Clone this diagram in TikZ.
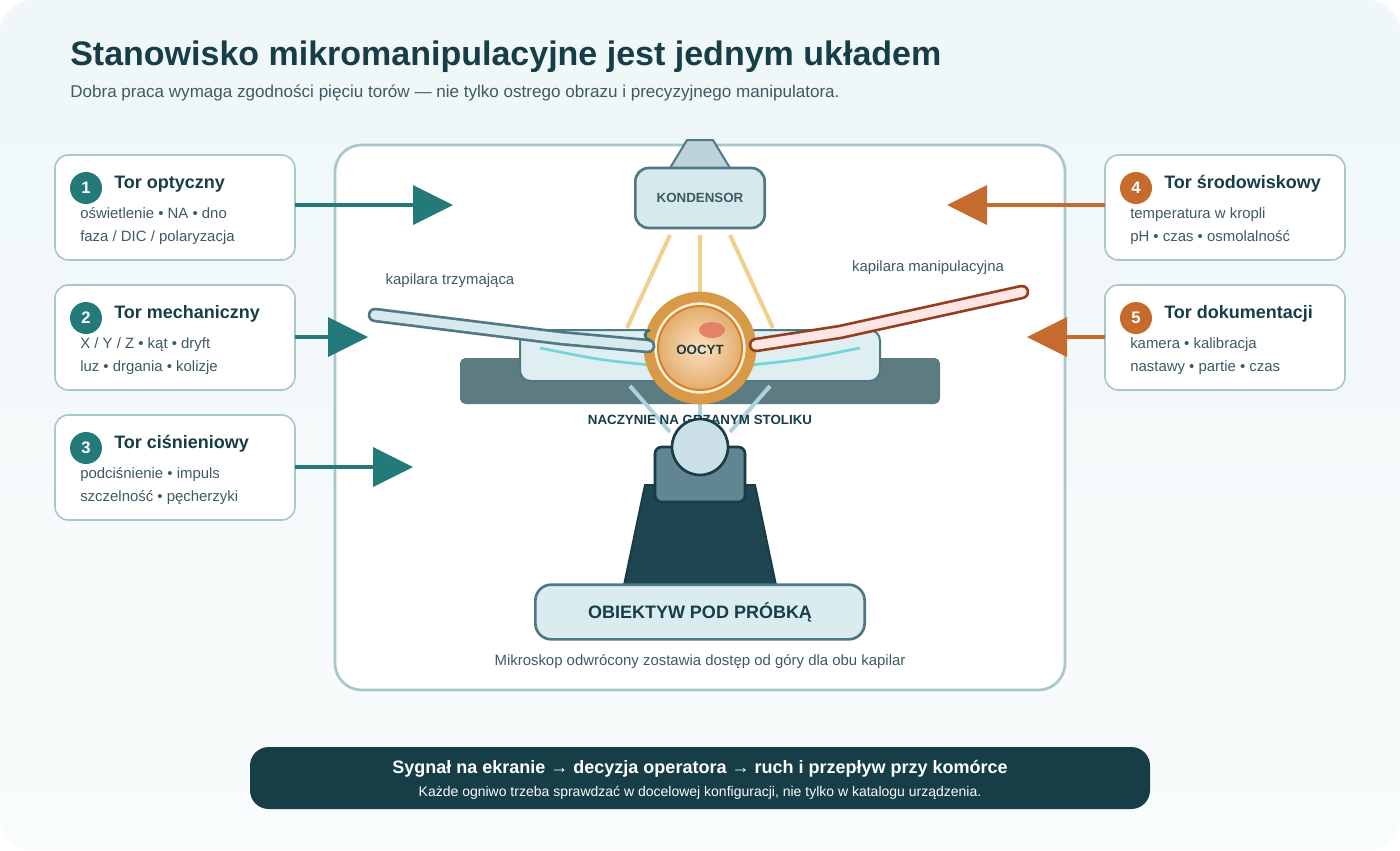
\documentclass[tikz,border=0pt]{standalone}
\usepackage{fontspec}
\setmainfont{Liberation Sans}
\usetikzlibrary{calc}
\begin{document}
\definecolor{teal}{HTML}{237A78}
\definecolor{orng}{HTML}{C56B2E}
\definecolor{dark}{HTML}{173D47}
\definecolor{txt}{HTML}{3E5A63}
\definecolor{bord}{HTML}{A9C6CA}
\definecolor{pale}{HTML}{D6EAEE}
\definecolor{stage}{HTML}{5C7C82}
\definecolor{steel}{HTML}{4F7885}
\definecolor{ring}{HTML}{D99A48}
\definecolor{ray}{HTML}{F0D08C}
\begin{tikzpicture}[x=0.75pt,y=-0.75pt,
 card/.style={draw=bord,line width=1.2pt,fill=white,rounded corners=10pt},
 num/.style={circle,minimum size=24pt,inner sep=0pt,text=white,font=\bfseries\fontsize{12.5}{14}\selectfont},
 ctitle/.style={anchor=west,text=dark,font=\bfseries\fontsize{13.5}{16}\selectfont},
 cbody/.style={anchor=north west,text=txt,align=left,font=\fontsize{11.2}{17.2}\selectfont,inner sep=0pt},
 arr/.style={line width=3pt}]
\shade[top color=white!60!pale,bottom color=white!85!pale,rounded corners=25pt] (0,0) rectangle (1400,850);
\useasboundingbox (0,0) rectangle (1400,850);
\node[anchor=west,text=dark,font=\bfseries\fontsize{25.5}{30}\selectfont,inner sep=0pt] at (70,57) {Stanowisko mikromanipulacyjne jest jednym układem};
\node[anchor=west,text=txt,font=\fontsize{12.8}{16}\selectfont,inner sep=0pt] at (70,93) {Dobra praca wymaga zgodności pięciu torów — nie tylko ostrego obrazu i precyzyjnego manipulatora.};
% main frame
\draw[card,rounded corners=20pt,line width=2pt] (335,145) rectangle (1065,690);
% condenser
\draw[fill=pale!80!steel,draw=steel,line width=1.5pt] (670,168) -- (687,140) -- (713,140) -- (730,168) -- cycle;
\node[draw=steel,line width=2pt,fill=pale,rounded corners=10pt,minimum width=97pt,minimum height=45pt,text=txt,font=\bfseries\fontsize{10}{12}\selectfont] (kond) at (700,198) {KONDENSOR};
% rays
\draw[ray,line width=3pt] (670,235) -- (627,328) (700,235) -- (700,295) (730,235) -- (773,328);
% stage
\fill[stage,rounded corners=4pt] (460,358) rectangle (940,404);
\draw[steel,fill=pale!80!white,line width=1.5pt,rounded corners=8pt] (520,330) rectangle (880,381);
\draw[teal!50!cyan!60!white,line width=2pt] (540,348) .. controls (600,360) .. (650,365) (750,365) .. controls (800,360) .. (860,348);
% lower rays
\draw[cyan!40!teal!40,line width=3pt] (630,386) -- (670,432) (700,385) -- (700,420) (770,386) -- (730,432);
\node[text=dark,font=\bfseries\fontsize{10}{12}\selectfont] (stol) at (700,420) {NACZYNIE NA GRZANYM STOLIKU};
% objective
\fill[dark!85!steel] (645,485) -- (755,485) -- (777,590) -- (623,590) -- cycle;
\draw[dark,line width=1.5pt] (645,485) -- (755,485) -- (777,590) -- (623,590) -- cycle;
\draw[dark,fill=steel!90!white,line width=2pt,rounded corners=5pt] (655,447) rectangle (745,502);
\draw[dark,fill=cyan!30!teal!25!white,line width=2pt] (700,447) circle (28);
\node[draw=steel,line width=2pt,fill=pale!90!white,rounded corners=12pt,minimum width=247pt,minimum height=41pt,text=dark,font=\bfseries\fontsize{13.5}{16}\selectfont] (obj) at (700,612) {OBIEKTYW POD PRÓBKĄ};
\node[text=txt,font=\fontsize{11.2}{14}\selectfont] at (700,662) {Mikroskop odwrócony zostawia dostęp od góry dla obu kapilar};
% oocyte
\draw[ring,line width=8pt,fill=orange!10!white] (700,348) circle (51);
\draw[orange!50!brown,line width=1.5pt,inner color=orange!25!white,outer color=ring!80!white] (700,348) circle (42);
\fill[red!40!brown!70] (712,330) ellipse (13 and 8);
\node[text=dark,font=\bfseries\fontsize{10}{12}\selectfont] (oocyt) at (700,350) {OOCYT};
% capillaries
\draw[steel,line width=11pt,line cap=round,line join=round] (375,315) -- (560,338) -- (648,346);
\draw[pale,line width=7pt,line cap=round,line join=round] (375,315) -- (560,338) -- (648,346);
\draw[teal,line width=2pt] (650,340) arc (90:270:5);
\draw[red!30!brown!70!black,line width=11pt,line cap=round,line join=round] (756,345) -- (840,332) -- (1022,292);
\draw[red!10!white,line width=7pt,line cap=round,line join=round] (756,345) -- (840,332) -- (1022,292);
\node[text=txt,font=\fontsize{11.2}{14}\selectfont] at (450,281) {kapilara trzymająca};
\node[text=txt,font=\fontsize{11.2}{14}\selectfont] at (928,268) {kapilara manipulacyjna};
% cards
\foreach \n/\y/\t/\a/\b/\c in {1/155/{Tor optyczny}/{oświetlenie • NA • dno}/{faza / DIC / polaryzacja}/teal,
 2/285/{Tor mechaniczny}/{X / Y / Z • kąt • dryft}/{luz • drgania • kolizje}/teal,
 3/415/{Tor ciśnieniowy}/{podciśnienie • impuls}/{szczelność • pęcherzyki}/teal,
 4/155/{Tor środowiskowy}/{temperatura w kropli}/{pH • czas • osmolalność}/orng,
 5/285/{Tor dokumentacji}/{kamera • kalibracja}/{nastawy • partie • czas}/orng}{
 \pgfmathsetmacro{\xo}{\n>3 ? 1050 : 0}
 \begin{scope}[xshift=\xo*0.75pt]
 \draw[card] (55,\y) rectangle (295,\y+105);
 \node[num,fill=\c] at (86,\y+33) {\n};
 \node[ctitle,inner sep=0pt] at (114,\y+29) {\t};
 \node[cbody] at (80,\y+52) {\a\\\b};
 \end{scope}
}
% arrows
\coordinate (a1) at (295,205); \coordinate (b1) at (453,205);
\coordinate (a2) at (295,337); \coordinate (b2) at (368,337);
\coordinate (a3) at (295,467); \coordinate (b3) at (413,467);
\coordinate (a4) at (1105,205); \coordinate (b4) at (947,205);
\coordinate (a5) at (1105,337); \coordinate (b5) at (1027,337);
\foreach \i/\c/\s in {1/teal/1,2/teal/1,3/teal/1,4/orng/-1,5/orng/-1}{
 \draw[\c,arr] (a\i) -- ($(b\i)+(-\s*38,0)$);
 \fill[\c] (b\i) -- ++(-\s*40,-20) -- ++(0,40) -- cycle;
}
% bottom banner
\fill[dark,rounded corners=14pt] (250,747) rectangle (1150,809);
\node[text=white,font=\bfseries\fontsize{13.5}{16}\selectfont] at (700,769) {Sygnał na ekranie → decyzja operatora → ruch i przepływ przy komórce};
\node[text=white!85!pale,font=\fontsize{10.5}{13}\selectfont] at (700,793) {Każde ogniwo trzeba sprawdzać w docelowej konfiguracji, nie tylko w katalogu urządzenia.};
\end{tikzpicture}
\end{document}
